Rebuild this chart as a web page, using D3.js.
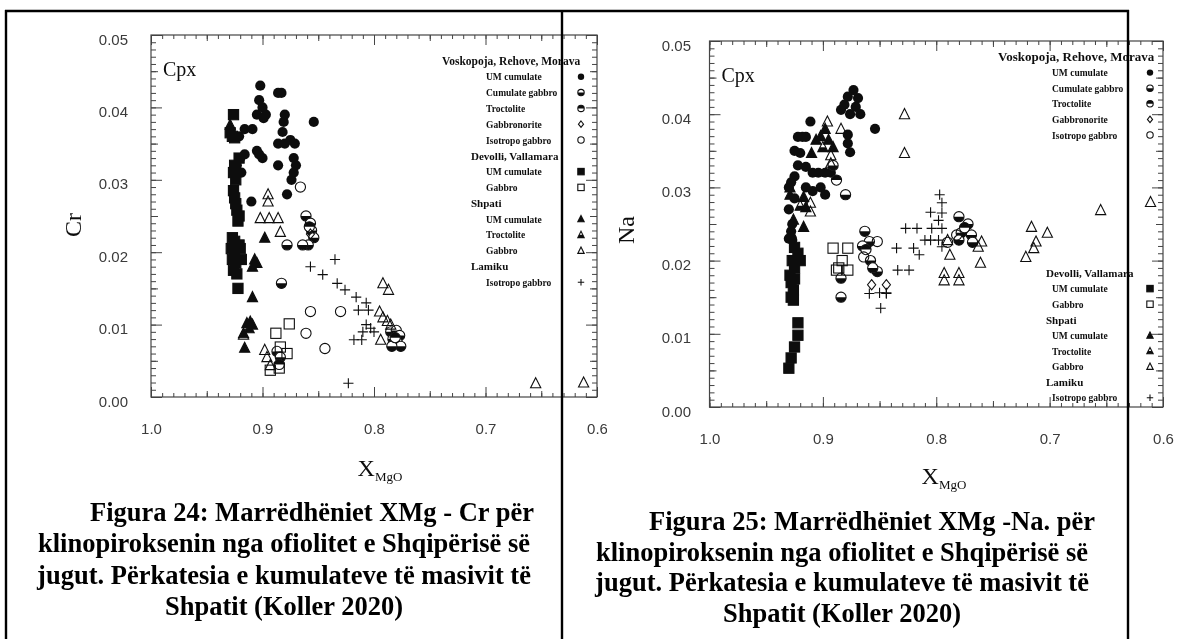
<!DOCTYPE html>
<html lang="sq">
<head>
<meta charset="UTF-8">
<title>Cpx - XMg vs Cr / Na</title>
<script src="https://d3js.org/d3.v7.min.js"></script>
<style>
  html, body { margin: 0; padding: 0; background: #fff; }
  svg { display: block; }
  .tick text { font-family: "Liberation Sans", Arial, sans-serif; font-size: 15px; fill: #3a3a3a; }
  .tick line { stroke: #444; }
  .serif { font-family: "Liberation Serif", "Times New Roman", serif; fill: #111; }
  .leg { font-family: "Liberation Serif", "Times New Roman", serif; font-weight: bold; fill: #111; }
  .caption { font-family: "Liberation Serif", "Times New Roman", serif; font-weight: bold; font-size: 26.5px; fill: #000; }
</style>
</head>
<body>
<svg width="1188" height="639"></svg>
<script>
// ---- data: [XMgO, value] ----
// Cr panel
const crVrmUm = [[0.902,0.043],[0.886,0.042],[0.883,0.042],[0.903,0.041],[0.900,0.040],[0.897,0.039],[0.905,0.039],[0.899,0.0385],[0.880,0.039],[0.881,0.038],[0.882,0.0366],[0.854,0.038],[0.886,0.035],[0.880,0.035],[0.875,0.0355],[0.871,0.035],[0.909,0.037],[0.916,0.037],[0.921,0.036],[0.927,0.036],[0.905,0.034],[0.900,0.033],[0.903,0.0335],[0.920,0.033],[0.916,0.0335],[0.886,0.032],[0.872,0.033],[0.870,0.032],[0.872,0.031],[0.874,0.030],[0.878,0.028],[0.910,0.027],[0.923,0.032],[0.919,0.031]];
const crVrmCumGabbro = [[0.861,0.025],[0.857,0.024],[0.856,0.023],[0.854,0.022],[0.859,0.021],[0.864,0.021],[0.878,0.021],[0.883,0.0157],[0.785,0.009],[0.780,0.0092],[0.777,0.0085],[0.783,0.008],[0.779,0.0075],[0.776,0.007],[0.784,0.007],[0.887,0.0063],[0.884,0.0055]];
const crVrmTroct = [[0.885,0.0045],[0.781,0.0082],[0.858,0.0235]];
const crVrmGabbronorite = [[0.857,0.0225]];
const crVrmIso = [[0.866,0.029],[0.857,0.0118],[0.830,0.0118],[0.861,0.0088],[0.844,0.0067]];
const crDevUm = [[0.926,0.039],[0.929,0.0365],[0.927,0.036],[0.925,0.0358],[0.921,0.033],[0.925,0.032],[0.926,0.031],[0.924,0.030],[0.926,0.0285],[0.925,0.0275],[0.924,0.0267],[0.923,0.0258],[0.921,0.025],[0.922,0.0243],[0.927,0.022],[0.925,0.0215],[0.921,0.021],[0.928,0.0205],[0.925,0.020],[0.920,0.0205],[0.927,0.019],[0.924,0.0185],[0.919,0.019],[0.926,0.0175],[0.923,0.017],[0.922,0.015]];
const crDevGabbro = [[0.876,0.0101],[0.888,0.0088],[0.884,0.0069],[0.878,0.006],[0.893,0.0037],[0.885,0.004]];
const crShpUm = [[0.929,0.0376],[0.898,0.022],[0.909,0.0138],[0.907,0.019],[0.909,0.018],[0.914,0.0102],[0.911,0.0104],[0.909,0.010],[0.917,0.0088],[0.916,0.0068]];
const crShpTroct = [[0.912,0.0095],[0.905,0.0185]];
const crShpGabbro = [[0.895,0.028],[0.895,0.027],[0.902,0.0247],[0.894,0.0247],[0.886,0.0247],[0.884,0.0228],[0.792,0.0157],[0.787,0.0148],[0.795,0.0118],[0.792,0.011],[0.788,0.0105],[0.785,0.010],[0.794,0.0079],[0.655,0.0019],[0.612,0.002],[0.898,0.0065],[0.896,0.0055],[0.893,0.0044],[0.917,0.0086]];
const crLamIso = [[0.835,0.019],[0.857,0.018],[0.846,0.0169],[0.833,0.0157],[0.826,0.0148],[0.816,0.0138],[0.807,0.013],[0.814,0.012],[0.805,0.012],[0.807,0.010],[0.803,0.0095],[0.800,0.009],[0.810,0.009],[0.818,0.0079],[0.811,0.0079],[0.823,0.0019]];

// Na panel
const naVrmUm = [[0.873,0.0433],[0.878,0.0424],[0.869,0.0422],[0.881,0.0413],[0.871,0.041],[0.884,0.0406],[0.876,0.040],[0.867,0.040],[0.878,0.0372],[0.878,0.036],[0.876,0.0348],[0.854,0.038],[0.911,0.039],[0.922,0.0369],[0.918,0.0369],[0.915,0.0369],[0.925,0.035],[0.920,0.0347],[0.922,0.033],[0.915,0.0328],[0.909,0.032],[0.904,0.032],[0.898,0.032],[0.893,0.032],[0.888,0.031],[0.925,0.0315],[0.928,0.0307],[0.930,0.030],[0.925,0.0285],[0.930,0.027],[0.927,0.025],[0.928,0.024],[0.930,0.023],[0.927,0.0228],[0.915,0.030],[0.909,0.0295],[0.902,0.030],[0.898,0.029]];
const naVrmCumGabbro = [[0.880,0.029],[0.891,0.033],[0.863,0.024],[0.859,0.0226],[0.865,0.022],[0.858,0.020],[0.852,0.0185],[0.856,0.019],[0.884,0.0176],[0.884,0.015],[0.780,0.026],[0.772,0.025],[0.778,0.0238],[0.769,0.0235],[0.780,0.0228],[0.768,0.0225]];
const naVrmTroct = [[0.862,0.0215],[0.775,0.0245],[0.888,0.031]];
const naVrmGabbronorite = [[0.857,0.0167],[0.844,0.0167]];
const naVrmIso = [[0.852,0.0226],[0.864,0.0205],[0.782,0.0235],[0.790,0.0225]];
const naDevUm = [[0.925,0.0218],[0.922,0.021],[0.927,0.020],[0.920,0.020],[0.925,0.019],[0.929,0.018],[0.925,0.0175],[0.928,0.017],[0.926,0.016],[0.928,0.015],[0.926,0.0146],[0.922,0.0115],[0.922,0.0098],[0.925,0.0082],[0.928,0.0067],[0.930,0.0053]];
const naDevGabbro = [[0.891,0.0217],[0.878,0.0217],[0.883,0.020],[0.888,0.0187],[0.878,0.0187],[0.886,0.019]];
const naShpUm = [[0.898,0.038],[0.902,0.037],[0.895,0.0365],[0.891,0.0355],[0.910,0.0347],[0.929,0.030],[0.929,0.029],[0.917,0.0287],[0.915,0.0273],[0.926,0.0256],[0.917,0.0246],[0.928,0.0238],[0.906,0.0365]];
const naShpTroct = [[0.900,0.0355],[0.920,0.0275]];
const naShpGabbro = [[0.896,0.039],[0.884,0.038],[0.828,0.040],[0.828,0.0347],[0.893,0.0344],[0.893,0.0333],[0.911,0.0279],[0.911,0.0267],[0.716,0.0246],[0.702,0.0238],[0.712,0.0226],[0.714,0.0217],[0.721,0.0205],[0.655,0.0269],[0.611,0.028],[0.790,0.0228],[0.788,0.0208],[0.793,0.0183],[0.780,0.0183],[0.793,0.0173],[0.780,0.0173],[0.763,0.0219],[0.760,0.0226],[0.761,0.0197]];
const naLamIso = [[0.797,0.029],[0.795,0.0279],[0.805,0.0266],[0.795,0.0265],[0.798,0.0255],[0.827,0.0244],[0.817,0.0244],[0.804,0.0244],[0.795,0.0244],[0.835,0.0217],[0.820,0.0217],[0.810,0.0228],[0.805,0.0228],[0.798,0.0228],[0.795,0.0219],[0.815,0.0208],[0.834,0.0187],[0.824,0.0187],[0.850,0.0156],[0.844,0.0156],[0.859,0.0155],[0.844,0.0155],[0.849,0.0135]];

// legend labels
const groupNames = ["Voskopoja, Rehove, Morava", "Devolli, Vallamara", "Shpati", "Lamiku"];
const rockTypes = [
  ["UM cumulate", "Cumulate gabbro", "Troctolite", "Gabbronorite", "Isotropo gabbro"],
  ["UM cumulate", "Gabbro"],
  ["UM cumulate", "Troctolite", "Gabbro"],
  ["Isotropo gabbro"]
];

// axis ticks
const xMajor = [1.0, 0.9, 0.8, 0.7, 0.6];
const yMajor = [0, 0.01, 0.02, 0.03, 0.04, 0.05];

const crSeries = [crVrmUm, crVrmCumGabbro, crVrmTroct, crVrmGabbronorite, crVrmIso, crDevUm, crDevGabbro, crShpUm, crShpTroct, crShpGabbro, crLamIso];
const naSeries = [naVrmUm, naVrmCumGabbro, naVrmTroct, naVrmGabbronorite, naVrmIso, naDevUm, naDevGabbro, naShpUm, naShpTroct, naShpGabbro, naLamIso];
// one marker per rock type, same order as the legend
const markers = ["dot", "halfBottom", "halfTop", "diamond", "ring", "square", "openSquare", "triangle", "triHalf", "openTriangle", "plus"];

const svg = d3.select("svg");
svg.append("rect").attr("width", 1188).attr("height", 639).attr("fill", "#fff");

const defs = svg.append("defs");
defs.append("clipPath").attr("id", "clipLeft")
  .append("rect").attr("x", 0).attr("y", 0).attr("width", 607).attr("height", 639);
defs.append("filter").attr("id", "soft")
  .append("feGaussianBlur").attr("stdDeviation", 0.35);

function drawMarker(g, type, s) {
  const r = s;
  const col = "#111";
  if (type === "dot") {
    g.append("circle").attr("r", r).attr("fill", col);
  } else if (type === "halfBottom" || type === "halfTop") {
    const sweep = type === "halfTop" ? 1 : 0;
    g.append("circle").attr("r", r).attr("fill", "#fff").attr("stroke", col).attr("stroke-width", 1.1);
    g.append("path").attr("d", `M${-r},0A${r},${r} 0 0 ${sweep} ${r},0Z`).attr("fill", col);
  } else if (type === "diamond") {
    g.append("path").attr("d", `M0,${-r}L${r * 0.8},0L0,${r}L${-r * 0.8},0Z`)
      .attr("fill", "none").attr("stroke", col).attr("stroke-width", 1.1);
  } else if (type === "ring") {
    g.append("circle").attr("r", r).attr("fill", "none").attr("stroke", col).attr("stroke-width", 1.1);
  } else if (type === "square" || type === "openSquare") {
    g.append("rect").attr("x", -r).attr("y", -r).attr("width", 2 * r).attr("height", 2 * r)
      .attr("fill", type === "square" ? col : "none")
      .attr("stroke", col).attr("stroke-width", 1.1);
  } else if (type === "triangle" || type === "openTriangle" || type === "triHalf") {
    const h = r * 1.1;
    const d = `M0,${-h}L${r},${h * 0.8}L${-r},${h * 0.8}Z`;
    g.append("path").attr("d", d)
      .attr("fill", type === "triangle" ? col : "none")
      .attr("stroke", col).attr("stroke-width", 1.1);
    if (type === "triHalf") {
      g.append("path").attr("d", `M${-r * 0.55},0L${r * 0.55},0L${r},${h * 0.8}L${-r},${h * 0.8}Z`).attr("fill", col);
    }
  } else if (type === "plus") {
    g.append("path").attr("d", `M${-r},0H${r}M0,${-r}V${r}`)
      .attr("stroke", col).attr("stroke-width", 1.1);
  }
}

function drawPanel(cfg) {
  const root = svg.append("g");
  if (cfg.clip) root.attr("clip-path", "url(#clipLeft)");
  const g = root.append("g").attr("filter", "url(#soft)");

  const x = d3.scaleLinear().domain([1.0, 0.6]).range([cfg.left, cfg.right]);
  const y = d3.scaleLinear().domain([0, 0.05]).range([cfg.bottom, cfg.top]);

  const xMinor = d3.range(60, 101).map(d => d / 100);
  const xMid = [0.95, 0.85, 0.75, 0.65];
  const yMinor = d3.range(0, 51).map(d => d / 1000);
  const yMid = [0.005, 0.015, 0.025, 0.035, 0.045];

  const sides = [
    { axis: d3.axisBottom, scale: x, tr: `translate(0,${cfg.bottom})`, sets: [[xMinor, 4], [xMid, 6], [xMajor, 10]] },
    { axis: d3.axisTop, scale: x, tr: `translate(0,${cfg.top})`, sets: [[xMinor, 4], [xMid, 6], [xMajor, 10]] },
    { axis: d3.axisLeft, scale: y, tr: `translate(${cfg.left},0)`, sets: [[yMinor, 5], [yMid, 7], [yMajor, 11]] },
    { axis: d3.axisRight, scale: y, tr: `translate(${cfg.right},0)`, sets: [[yMinor, 5], [yMid, 7], [yMajor, 11]] }
  ];
  sides.forEach(sd => {
    sd.sets.forEach(([vals, len]) => {
      const a = g.append("g").attr("transform", sd.tr)
        .call(sd.axis(sd.scale).tickValues(vals).tickSize(-len).tickFormat(""));
      a.select(".domain").remove();
    });
  });

  g.append("rect")
    .attr("x", cfg.left).attr("y", cfg.top)
    .attr("width", cfg.right - cfg.left).attr("height", cfg.bottom - cfg.top)
    .attr("fill", "none").attr("stroke", "#444").attr("stroke-width", 1.2);

  // tick labels
  const yl = g.append("g").attr("transform", `translate(${cfg.left},0)`)
    .call(d3.axisLeft(y).tickValues(yMajor).tickSize(0).tickPadding(cfg.left - cfg.yLabelRight).tickFormat(d3.format(".2f")));
  yl.select(".domain").remove();
  yl.selectAll("text").attr("dy", "0.6em");

  const xl = g.append("g").attr("transform", `translate(0,${cfg.bottom})`)
    .call(d3.axisBottom(x).tickValues(xMajor).tickSize(0).tickPadding(26).tickFormat(d3.format(".1f")));
  xl.select(".domain").remove();

  // titles
  g.append("text").attr("class", "serif")
    .attr("x", cfg.left + 12).attr("y", cfg.top + 41)
    .style("font-size", "20px").text("Cpx");

  g.append("text").attr("class", "serif")
    .attr("transform", `translate(${cfg.yTitleX},${cfg.yTitleY}) rotate(-90)`)
    .attr("text-anchor", "middle").attr("dy", "0.35em")
    .style("font-size", "24px").text(cfg.yTitle);

  const xt = g.append("text").attr("class", "serif")
    .attr("x", cfg.xTitleX).attr("y", cfg.xTitleY)
    .attr("text-anchor", "middle").style("font-size", "24px");
  xt.append("tspan").text("X");
  xt.append("tspan").attr("dy", 5).style("font-size", "13px").text("MgO");

  // data marks
  cfg.series.forEach((pts, i) => {
    pts.forEach(p => {
      const m = g.append("g").attr("transform", `translate(${x(p[0])},${y(p[1])})`);
      drawMarker(m, markers[i], 5.1);
    });
  });

  // legend
  let k = 0;
  groupNames.forEach((name, gi) => {
    const block = cfg.legendBlocks[gi];
    const rowY = r => block.y0 + r * cfg.rowStep;
    const startRow = block.row;
    g.append("text").attr("class", "leg")
      .attr("x", gi === 0 ? cfg.headX : cfg.subHeadX).attr("y", rowY(startRow) + 4)
      .style("font-size", gi === 0 ? cfg.headSize : "11px").text(name);
    rockTypes[gi].forEach((lab, j) => {
      const yy = rowY(startRow + j + 1);
      g.append("text").attr("class", "leg")
        .attr("x", cfg.itemX).attr("y", yy + 3.5)
        .style("font-size", "9.5px").text(lab);
      const m = g.append("g").attr("transform", `translate(${cfg.symX},${yy})`);
      drawMarker(m, markers[k], 3.2);
      k++;
    });
  });
}

// left panel (Cr)
drawPanel({
  clip: true,
  left: 151, right: 597, top: 35, bottom: 397,
  yLabelRight: 128,
  yTitle: "Cr", yTitleX: 73, yTitleY: 225,
  xTitleX: 380, xTitleY: 476,
  series: crSeries,
  headX: 442, subHeadX: 471, itemX: 486, symX: 581,
  headSize: "11.5px", rowStep: 15.8,
  legendBlocks: [{ y0: 61, row: 0 }, { y0: 61, row: 6 }, { y0: 61, row: 9 }, { y0: 61, row: 13 }]
});

// right panel (Na)
drawPanel({
  clip: false,
  left: 709.5, right: 1163, top: 41, bottom: 407,
  yLabelRight: 691,
  yTitle: "Na", yTitleX: 626, yTitleY: 230,
  xTitleX: 944, xTitleY: 484,
  series: naSeries,
  headX: 998, subHeadX: 1046, itemX: 1052, symX: 1150,
  headSize: "13px", rowStep: 15.6,
  legendBlocks: [{ y0: 57, row: 0 }, { y0: 273, row: 0 }, { y0: 273, row: 3 }, { y0: 273, row: 7 }]
});

// captions
const capLeft = [
  "Figura 24: Marrëdhëniet XMg - Cr për",
  "klinopiroksenin nga ofiolitet e Shqipërisë së",
  "jugut. Përkatesia e kumulateve të masivit të",
  "Shpatit (Koller 2020)"
];
const capRight = [
  "Figura 25: Marrëdhëniet XMg -Na. për",
  "klinopiroksenin nga ofiolitet e Shqipërisë së",
  "jugut. Përkatesia e kumulateve të masivit të",
  "Shpatit (Koller 2020)"
];

function drawCaption(lines, cx, indentX, y0, step) {
  lines.forEach((t, i) => {
    const txt = svg.append("text").attr("class", "caption")
      .attr("y", y0 + i * step).text(t);
    if (i === 0) txt.attr("x", indentX);
    else txt.attr("x", cx).attr("text-anchor", "middle");
  });
}
drawCaption(capLeft, 284, 90, 521, 31.3);
drawCaption(capRight, 842, 649, 530, 30.7);

// table borders
const border = svg.append("g").attr("stroke", "#000").attr("stroke-width", 2.4);
border.append("line").attr("x1", 5).attr("x2", 1129).attr("y1", 11).attr("y2", 11);
[6, 562, 1128].forEach(bx => {
  border.append("line").attr("x1", bx).attr("x2", bx).attr("y1", 10).attr("y2", 639);
});
</script>
</body>
</html>
